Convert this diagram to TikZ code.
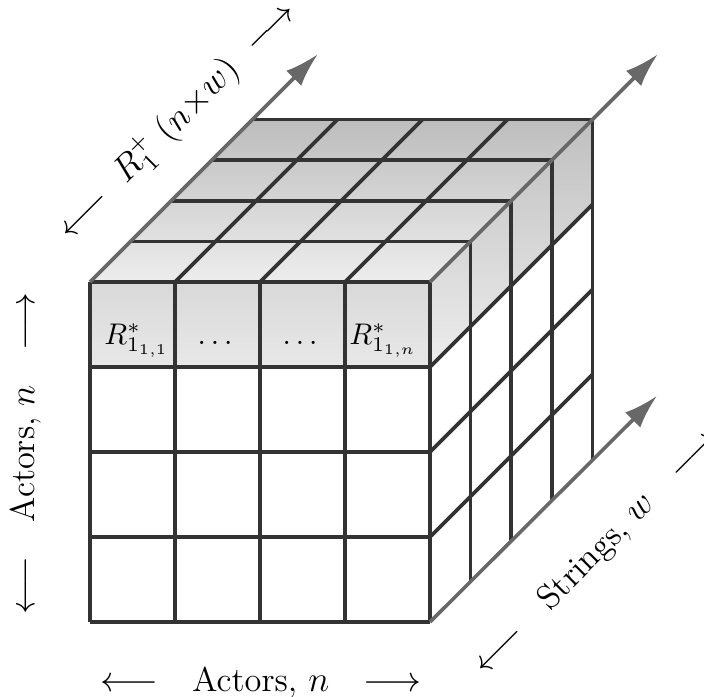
\documentclass[tikz,border=0pt]{standalone}
\usepackage{amsmath}
\usetikzlibrary{arrows.meta,calc}
\definecolor{gridline}{HTML}{333333}
\definecolor{axisgray}{HTML}{686868}
\tikzset{
  cgrid/.style={draw=gridline, line width=1.2pt},
  caxis/.style={draw=axisgray, line width=1.2pt, -{Latex[length=4mm,width=2.5mm]}},
  clabel/.style={inner sep=1pt, font=\fontsize{11.5}{14}\selectfont},
  ccell/.style={inner sep=0pt, anchor=base}
}

\begin{document}
\begin{tikzpicture}[x=1cm,y=1cm]
\useasboundingbox (-1.059,-0.882) rectangle (7.224,7.318);
% cube corners
\coordinate (fbl) at (0,0);
\coordinate (fbr) at (4,0);
\coordinate (ftl) at (0,4);
\coordinate (ftr) at (4,4);
\coordinate (d) at (0.478,0.478);
\coordinate (btl) at (1.912,5.912);
\coordinate (btr) at (5.912,5.912);
\coordinate (bbr) at (5.912,1.912);
% axis tips
\coordinate (tipl) at (2.68,6.68);
\coordinate (tipr) at (6.68,6.68);
\coordinate (tipb) at (6.67,2.66);

% shaded top layer
\shade[top color=gray!52, bottom color=gray!14] (ftl) -- (ftr) -- (btr) -- (btl) -- cycle;
\shade[top color=gray!50, bottom color=gray!14] (ftr) -- (4,3) -- (5.912,4.912) -- (btr) -- cycle;
\shade[top color=gray!30, bottom color=gray!18] (0,3) rectangle (ftr);

% front face
\foreach \i in {0,...,4} {
  \draw[cgrid] (\i,0) -- (\i,4);
  \draw[cgrid] (0,\i) -- (4,\i);
}
% top face
\foreach \k in {1,...,4}
  \draw[cgrid] ($(ftl)+\k*(d)$) -- ($(ftr)+\k*(d)$);
\foreach \i in {1,...,3}
  \draw[cgrid] (\i,4) -- ++(1.912,1.912);
% side face
\foreach \k in {1,...,4}
  \draw[cgrid] ($(fbr)+\k*(d)$) -- ($(ftr)+\k*(d)$);
\foreach \j in {1,...,3}
  \draw[cgrid] (4,\j) -- ++(1.912,1.912);

% axes
\draw[caxis] (ftl) -- (tipl);
\draw[caxis] (ftr) -- (tipr);
\draw[caxis] (fbr) -- (tipb);

% cells of first row
\node[ccell] (r11) at (0.55,3.27) {$R^*_{1_{1,1}}$};
\node[ccell] (dotsa) at (1.5,3.27) {$\dots$};
\node[ccell] (dotsb) at (2.5,3.27) {$\dots$};
\node[ccell] (r1n) at (3.45,3.27) {$R^*_{1_{1,n}}$};

% labels
\node[clabel, rotate=45] (toplbl) at (1.02,5.9) {$\longleftarrow$\ \ $R_1^{+}\ (n{\times}w)$\ \ $\longrightarrow$};
\node[clabel, rotate=90] (leftlbl) at (-0.76,1.98) {$\longleftarrow$\quad Actors, $n$\quad $\longrightarrow$};
\node[clabel] (botlbl) at (2.01,-0.71) {$\longleftarrow$\quad Actors, $n$\quad $\longrightarrow$};
\node[clabel, rotate=45] (strlbl) at (5.97,0.82) {$\longleftarrow$\quad Strings, $w$\quad $\longrightarrow$};
\end{tikzpicture}
\end{document}
